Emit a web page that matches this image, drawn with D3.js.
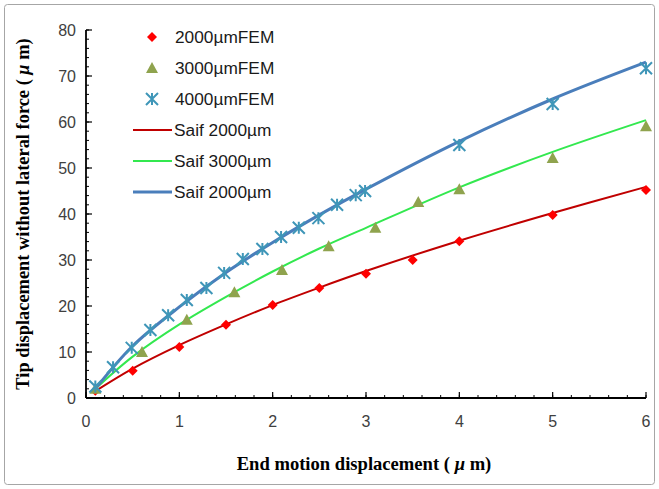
<!DOCTYPE html>
<html><head><meta charset="utf-8">
<script src="https://cdn.jsdelivr.net/npm/d3@7"></script>
<style>body{margin:0;background:#fff}svg{display:block}</style>
</head><body>
<script>
// ---- data ----
const xTicks = [0,1,2,3,4,5,6];
const yTicks = [0,10,20,30,40,50,60,70,80];
const fem2000 = [[0.1,1.6],[0.5,5.9],[1,11.1],[1.5,15.9],[2,20.2],[2.5,23.9],[3,27],[3.5,30],[4,34.1],[5,39.8],[6,45.2]];
const fem3000 = [[0.1,2],[0.6,10],[1.08,17],[1.59,23],[2.1,27.8],[2.6,33],[3.1,37],[3.56,42.6],[4,45.4],[5,52.2],[6,59.1]];
const fem4000 = [[0.1,2.5],[0.29,6.7],[0.49,10.9],[0.69,14.8],[0.88,18],[1.08,21.3],[1.29,23.9],[1.48,27.2],[1.68,30.2],[1.89,32.4],[2.09,35],[2.28,37],[2.49,39.1],[2.69,42],[2.89,44.1],[2.99,45],[4,55],[5,63.9],[6,71.7]];
const saif2000 = [[0.1,1.5],[0.5,6.4],[1,11.5],[1.5,16],[2,20.2],[2.5,24],[3,27.6],[4,34.2],[5,40.2],[6,45.9]];
const saif3000 = [[0.1,2],[0.5,9],[1,16],[1.5,22],[2,27.5],[2.5,32.5],[3,37],[4,45.8],[5,53.5],[6,60.4]];
const saif4000 = [[0.1,2],[0.5,11.3],[1,19.8],[1.5,27.3],[2,33.8],[2.5,39.8],[3,45.4],[4,55.8],[5,65],[6,73]];
const legendLabels = ["2000µmFEM","3000µmFEM","4000µmFEM","Saif 2000µm","Saif 3000µm","Saif 2000µm"];

const W=659,H=489;
const svg=d3.select("body").append("svg").attr("width",W).attr("height",H);
svg.append("rect").attr("x",4.5).attr("y",4.5).attr("width",650).attr("height",480)
  .attr("fill","#fff").attr("stroke","#a6a6a6").attr("stroke-width",1).attr("rx",3);

const x=d3.scaleLinear().domain([0,6]).range([86,646]);
const y=d3.scaleLinear().domain([0,80]).range([398,30]);

// axes
const g=svg.append("g");
const xMinor=d3.range(0,6.0001,0.2);
const yMinor=d3.range(0,80.001,2);
g.selectAll(".xm").data(xMinor).join("line")
  .attr("x1",d=>x(d)).attr("x2",d=>x(d)).attr("y1",y(0)).attr("y2",y(0)-3).attr("stroke","#000").attr("stroke-width",1);
g.selectAll(".xM").data(xTicks).join("line")
  .attr("x1",d=>x(d)).attr("x2",d=>x(d)).attr("y1",y(0)).attr("y2",y(0)-6).attr("stroke","#000").attr("stroke-width",1.2);
g.selectAll(".ym").data(yMinor).join("line")
  .attr("x1",x(0)).attr("x2",x(0)+3).attr("y1",d=>y(d)).attr("y2",d=>y(d)).attr("stroke","#000").attr("stroke-width",1);
g.selectAll(".yM").data(yTicks).join("line")
  .attr("x1",x(0)).attr("x2",x(0)+6).attr("y1",d=>y(d)).attr("y2",d=>y(d)).attr("stroke","#000").attr("stroke-width",1.2);
g.append("line").attr("x1",x(0)).attr("x2",x(6)).attr("y1",y(0)).attr("y2",y(0)).attr("stroke","#000").attr("stroke-width",1.8);
g.append("line").attr("x1",x(0)).attr("x2",x(0)).attr("y1",y(0)).attr("y2",y(80)).attr("stroke","#000").attr("stroke-width",1.8);

const tickFont="'Liberation Sans',Arial,sans-serif";
g.selectAll(".xl").data(xTicks).join("text")
  .attr("x",d=>x(d)).attr("y",y(0)+29).attr("text-anchor","middle")
  .attr("font-family",tickFont).attr("font-size",16).attr("fill","#404040").text(d=>d);
g.selectAll(".yl").data(yTicks).join("text")
  .attr("x",x(0)-10).attr("y",d=>y(d)+6).attr("text-anchor","end")
  .attr("font-family",tickFont).attr("font-size",16).attr("fill","#404040").text(d=>d);

// axis titles
const serif="'Liberation Serif','Times New Roman',serif";
const xt=svg.append("text").attr("x",364).attr("y",470).attr("text-anchor","middle")
  .attr("font-family",serif).attr("font-weight","bold").attr("font-size",18.6).attr("fill","#000");
xt.append("tspan").text("End motion displacement ( ");
xt.append("tspan").attr("font-style","italic").text("μ");
xt.append("tspan").text(" m)");
const yt=svg.append("text").attr("transform","translate(29,214) rotate(-90)").attr("text-anchor","middle")
  .attr("font-family",serif).attr("font-weight","bold").attr("font-size",18.4).attr("fill","#000");
yt.append("tspan").text("Tip displacement  without lateral force ( ");
yt.append("tspan").attr("font-style","italic").text("μ");
yt.append("tspan").text(" m)");

// lines
const line=d3.line().x(d=>x(d[0])).y(d=>y(d[1])).curve(d3.curveCatmullRom.alpha(0.5));
const lineCols=["#c00000","#33e84f","#4a7ebb"];
const lineW=[2,2,3];
[saif2000,saif3000,saif4000].forEach((s,i)=>{
  svg.append("path").attr("d",line(s)).attr("fill","none").attr("stroke",lineCols[i]).attr("stroke-width",lineW[i]);
});

// markers
function diamond(sel,cx,cy){sel.append("path").attr("d",`M${cx},${cy-5}L${cx+5},${cy}L${cx},${cy+5}L${cx-5},${cy}Z`).attr("fill","#ff0000");}
function tri(sel,cx,cy){sel.append("path").attr("d",`M${cx},${cy-6}L${cx+6},${cy+5}L${cx-6},${cy+5}Z`).attr("fill","#8fa34e");}
function star(sel,cx,cy){const s=6;sel.append("path")
  .attr("d",`M${cx-s},${cy-s}L${cx+s},${cy+s}M${cx-s},${cy+s}L${cx+s},${cy-s}M${cx},${cy-s}L${cx},${cy+s}`)
  .attr("stroke","#3f96b8").attr("stroke-width",2).attr("fill","none");}
const mg=svg.append("g");
fem2000.forEach(d=>diamond(mg,x(d[0]),y(d[1])));
fem3000.forEach(d=>tri(mg,x(d[0]),y(d[1])));
fem4000.forEach(d=>star(mg,x(d[0]),y(d[1])));

// legend
const lg=svg.append("g");
const ly=[37,68,99,130,161,192];
legendLabels.forEach((t,i)=>{
  const yy=ly[i];
  if(i===0) diamond(lg,152,yy);
  else if(i===1) tri(lg,152,yy);
  else if(i===2) star(lg,152,yy);
  else lg.append("line").attr("x1",133).attr("x2",172).attr("y1",yy).attr("y2",yy)
        .attr("stroke",lineCols[i-3]).attr("stroke-width",lineW[i-3]);
  lg.append("text").attr("x",i<3?175:174).attr("y",yy+6).attr("font-family",tickFont)
    .attr("font-size",17.3).attr("fill","#1a1a1a").text(t);
});
</script>
</body></html>
